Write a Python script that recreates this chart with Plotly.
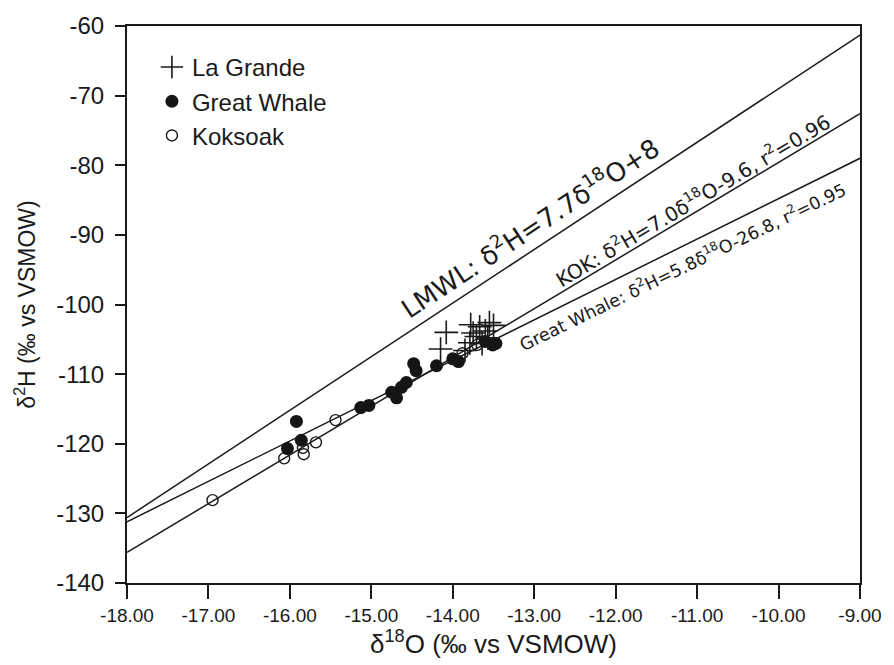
import plotly.graph_objects as go

# ---- data ----
lagrande_x = [-14.08, -14.15, -13.78, -13.55, -13.67, -13.75, -13.60, -13.71, -13.85, -13.79, -13.57, -13.50, -13.64]
lagrande_y = [-104.0, -106.4, -102.9, -102.6, -103.2, -104.1, -103.8, -104.6, -106.6, -105.5, -104.8, -103.0, -105.6]

greatwhale_x = [-16.03, -15.92, -15.86, -15.13, -15.03, -14.75, -14.69, -14.63, -14.57, -14.48,
                -14.45, -14.20, -14.00, -13.93, -13.60, -13.51, -13.47]
greatwhale_y = [-120.7, -116.8, -119.5, -114.8, -114.5, -112.6, -113.4, -111.9, -111.2, -108.5,
                -109.5, -108.8, -107.8, -108.2, -105.3, -105.8, -105.6]

koksoak_x = [-16.95, -16.07, -15.83, -15.84, -15.68, -15.44, -13.88, -13.70]
koksoak_y = [-128.1, -122.1, -121.5, -120.6, -119.8, -116.6, -107.0, -105.8]

# regression / meteoric lines (end points)
lmwl_x = [-18.0, -9.0]
lmwl_y = [-130.6, -61.3]
kok_x = [-18.0, -9.0]
kok_y = [-135.6, -72.6]
gw_x = [-18.0, -9.0]
gw_y = [-131.2, -79.0]

x_ticks = [-18, -17, -16, -15, -14, -13, -12, -11, -10, -9]
x_ticklabels = ["-18.00", "-17.00", "-16.00", "-15.00", "-14.00", "-13.00", "-12.00", "-11.00", "-10.00", "-9.00"]
y_ticks = [-60, -70, -80, -90, -100, -110, -120, -130, -140]
y_ticklabels = ["-60", "-70", "-80", "-90", "-100", "-110", "-120", "-130", "-140"]

fig = go.Figure()

for lx, ly in [(lmwl_x, lmwl_y), (kok_x, kok_y), (gw_x, gw_y)]:
    fig.add_trace(go.Scatter(x=lx, y=ly, mode="lines", showlegend=False,
                             line=dict(color="#1a1a1a", width=1.5), hoverinfo="skip"))

fig.add_trace(go.Scatter(x=koksoak_x, y=koksoak_y, mode="markers", name="Koksoak",
                         legendgroup="c", legendrank=3,
                         marker=dict(symbol="circle-open", size=11, color="#1a1a1a",
                                     line=dict(width=1.4, color="#1a1a1a"))))
fig.add_trace(go.Scatter(x=greatwhale_x, y=greatwhale_y, mode="markers", name="Great Whale",
                         legendgroup="b", legendrank=2,
                         marker=dict(symbol="circle", size=13, color="#151515")))
fig.add_trace(go.Scatter(x=lagrande_x, y=lagrande_y, mode="markers", name="La Grande",
                         legendgroup="a", legendrank=1,
                         marker=dict(symbol="cross-thin-open", size=17, color="#1a1a1a",
                                     line=dict(width=1.6, color="#1a1a1a"))))

eqfont = "DejaVu Sans, Lato, sans-serif"
fig.add_annotation(x=-13.06, y=-88.8, xref="x", yref="y", showarrow=False,
                   text="LMWL: δ<sup>2</sup>H=7.7δ<sup>18</sup>O+8", textangle=-33.4,
                   font=dict(family=eqfont, size=26, color="#1a1a1a"))
fig.add_annotation(x=-11.06, y=-85.0, xref="x", yref="y", showarrow=False,
                   text="KOK: δ<sup>2</sup>H=7.0δ<sup>18</sup>O-9.6, r<sup>2</sup>=0.96", textangle=-30.8,
                   font=dict(family=eqfont, size=20, color="#1a1a1a"))
fig.add_annotation(x=-11.18, y=-94.4, xref="x", yref="y", showarrow=False,
                   text="Great Whale: δ<sup>2</sup>H=5.8δ<sup>18</sup>O-26.8, r<sup>2</sup>=0.95", textangle=-25.9,
                   font=dict(family=eqfont, size=17.5, color="#1a1a1a"))

axfont = "Liberation Sans, Arial, sans-serif"
fig.update_layout(
    width=894, height=665,
    margin=dict(l=127, r=30, t=24, b=82),
    paper_bgcolor="white", plot_bgcolor="white",
    font=dict(family=axfont, color="#1a1a1a"),
    legend=dict(x=0.034, y=0.966, xanchor="left", yanchor="top",
                font=dict(family=axfont, size=24, color="#1a1a1a"),
                tracegroupgap=4, bgcolor="rgba(0,0,0,0)", traceorder="normal"),
    xaxis=dict(range=[-18, -9], tickvals=x_ticks, ticktext=x_ticklabels,
               showgrid=False, zeroline=False, showline=True, linecolor="#1a1a1a", linewidth=2,
               mirror=True, ticks="outside", ticklen=14, tickwidth=1.5, tickcolor="#1a1a1a",
               tickfont=dict(family=axfont, size=19),
               title=dict(text="δ<sup>18</sup>O (‰ vs VSMOW)",
                          font=dict(family=axfont, size=26),
                          standoff=2)),
    yaxis=dict(range=[-140, -60], tickvals=y_ticks, ticktext=y_ticklabels,
               showgrid=False, zeroline=False, showline=True, linecolor="#1a1a1a", linewidth=2,
               mirror=True, ticks="outside", ticklen=10, tickwidth=1.5, tickcolor="#1a1a1a",
               tickfont=dict(family=axfont, size=24), ticklabelstandoff=6,
               title=dict(text="δ<sup>2</sup>H (‰ vs VSMOW)", font=dict(family=axfont, size=23),
                          standoff=14)),
)

fig.write_html("out.html")
